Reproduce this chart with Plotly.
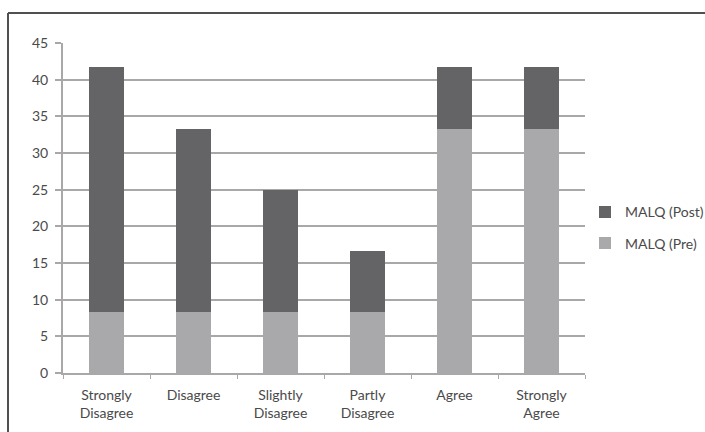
import plotly.graph_objects as go

categories = ["Strongly<br>Disagree", "Disagree", "Slightly<br>Disagree",
              "Partly<br>Disagree", "Agree", "Strongly<br>Agree"]
pre_values = [8.33, 8.33, 8.33, 8.33, 33.33, 33.33]
post_values = [33.33, 25.0, 16.67, 8.33, 8.33, 8.33]
y_ticks = [0, 5, 10, 15, 20, 25, 30, 35, 40, 45]

PRE_COLOR = "#a9a9ab"
POST_COLOR = "#646466"
GRID = "#a8a8a8"
TEXT = "#4a4a4a"
FONT = "Lato"
FS = 14

fig = go.Figure()
fig.add_trace(go.Bar(x=categories, y=pre_values, name="MALQ (Pre)",
                     marker=dict(color=PRE_COLOR, line=dict(width=0)),
                     legendgroup="pre", legendrank=2))
fig.add_trace(go.Bar(x=categories, y=post_values, name="MALQ (Post)",
                     marker=dict(color=POST_COLOR, line=dict(width=0)),
                     legendgroup="post", legendrank=1))

W, H = 705, 432
ml, mr, mt, mb = 63, 120, 43, 59
pw, ph = W - ml - mr, H - mt - mb

# outer frame (top and left edges), in paper coordinates
fx = (8 - ml) / pw
fy = (H - mb - 13) / ph
fig.add_shape(type="line", xref="paper", yref="paper",
              x0=fx, y0=fy, x1=(W - ml) / pw, y1=fy,
              line=dict(color="#505050", width=2))
fig.add_shape(type="line", xref="paper", yref="paper",
              x0=fx, y0=fy, x1=fx, y1=-(mb) / ph,
              line=dict(color="#505050", width=2))

fig.update_layout(
    width=W, height=H,
    margin=dict(l=ml, r=mr, t=mt, b=mb, autoexpand=False),
    barmode="stack", bargap=0.6,
    plot_bgcolor="white", paper_bgcolor="white",
    font=dict(family=FONT, size=FS, color=TEXT),
    showlegend=True,
    legend=dict(x=1.0, y=0.44, xanchor="left", yanchor="middle",
                traceorder="grouped", tracegroupgap=10,
                font=dict(size=FS, color=TEXT), itemwidth=30),
)
fig.update_yaxes(range=[0, 45], tickvals=y_ticks, showgrid=True,
                 gridcolor=GRID, gridwidth=2, showline=True, linecolor=GRID,
                 linewidth=2, ticks="outside", ticklen=6, tickcolor=GRID,
                 tickwidth=2, zeroline=False, tickfont=dict(size=FS),
                 ticklabelstandoff=4)
fig.update_xaxes(showline=True, linecolor=GRID, linewidth=2,
                 ticks="outside", tickson="boundaries", ticklen=4,
                 tickcolor=GRID, tickwidth=1, showgrid=False,
                 tickfont=dict(size=FS), ticklabelstandoff=8)

fig.write_html("out.html")
